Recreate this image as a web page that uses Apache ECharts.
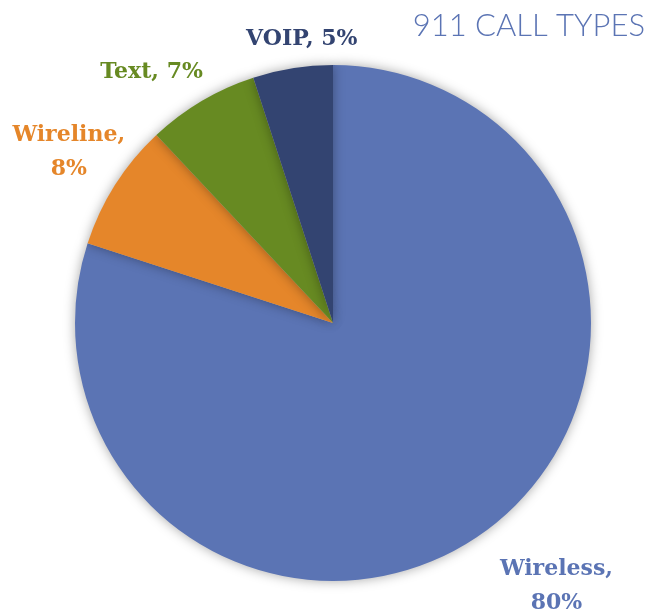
<!DOCTYPE html>
<html>
<head>
<meta charset="utf-8">
<script src="https://cdn.jsdelivr.net/npm/echarts@6/dist/echarts.min.js"></script>
<style>
  html, body { margin: 0; padding: 0; background: #fff; }
  #chart { width: 662px; height: 613px; }
</style>
</head>
<body>
<div id="chart"></div>
<script>
const categories = ["Wireless", "Wireline", "Text", "VOIP"];
const shares = [80, 8, 7, 5];
const colors = ["#5b74b4", "#e5862a", "#678a22", "#334471"];

// small hand nudges so the labels sit where Excel put them
const labelNudge = {
  Wireless: [2, 43],
  Wireline: [22, -25],
  Text: [12, -18],
  VOIP: [72, -15],
};

const chart = echarts.init(document.getElementById("chart"));

const option = {
  title: {
    text: "911 CALL TYPES",
    right: 12,
    top: 5,
    textStyle: {
      fontFamily: "Lato, 'Open Sans', sans-serif",
      fontWeight: 300,
      fontSize: 31,
      color: "#5b74b4",
    },
  },
  series: [
    {
      type: "pie",
      center: [333, 323],
      radius: 258,
      startAngle: 90,
      clockwise: true,
      data: categories.map((name, i) => ({
        name,
        value: shares[i],
        itemStyle: { color: colors[i] },
        label: { color: colors[i] },
      })),
      itemStyle: {
        shadowBlur: 12,
        shadowColor: "rgba(0,0,0,0.35)",
      },
      label: {
        position: "outside",
        formatter: (p) =>
          p.name === "Wireless" || p.name === "Wireline"
            ? p.name + ",\n" + p.value + "%"
            : p.name + ", " + p.value + "%",
        fontFamily: "'DejaVu Serif', serif",
        fontWeight: "bold",
        fontSize: 22,
        lineHeight: 34,
        overflow: "none",
      },
      labelLine: { show: false, length: 14, length2: 0 },
      labelLayout: (params) => {
        const r = params.labelRect;
        const n = labelNudge[categories[params.dataIndex]] || [0, 0];
        return {
          x: r.x + r.width / 2 + n[0],
          y: r.y + r.height / 2 + n[1],
          align: "center",
          verticalAlign: "middle",
        };
      },
      emphasis: { disabled: true },
    },
  ],
};

chart.setOption(option);
</script>
</body>
</html>
